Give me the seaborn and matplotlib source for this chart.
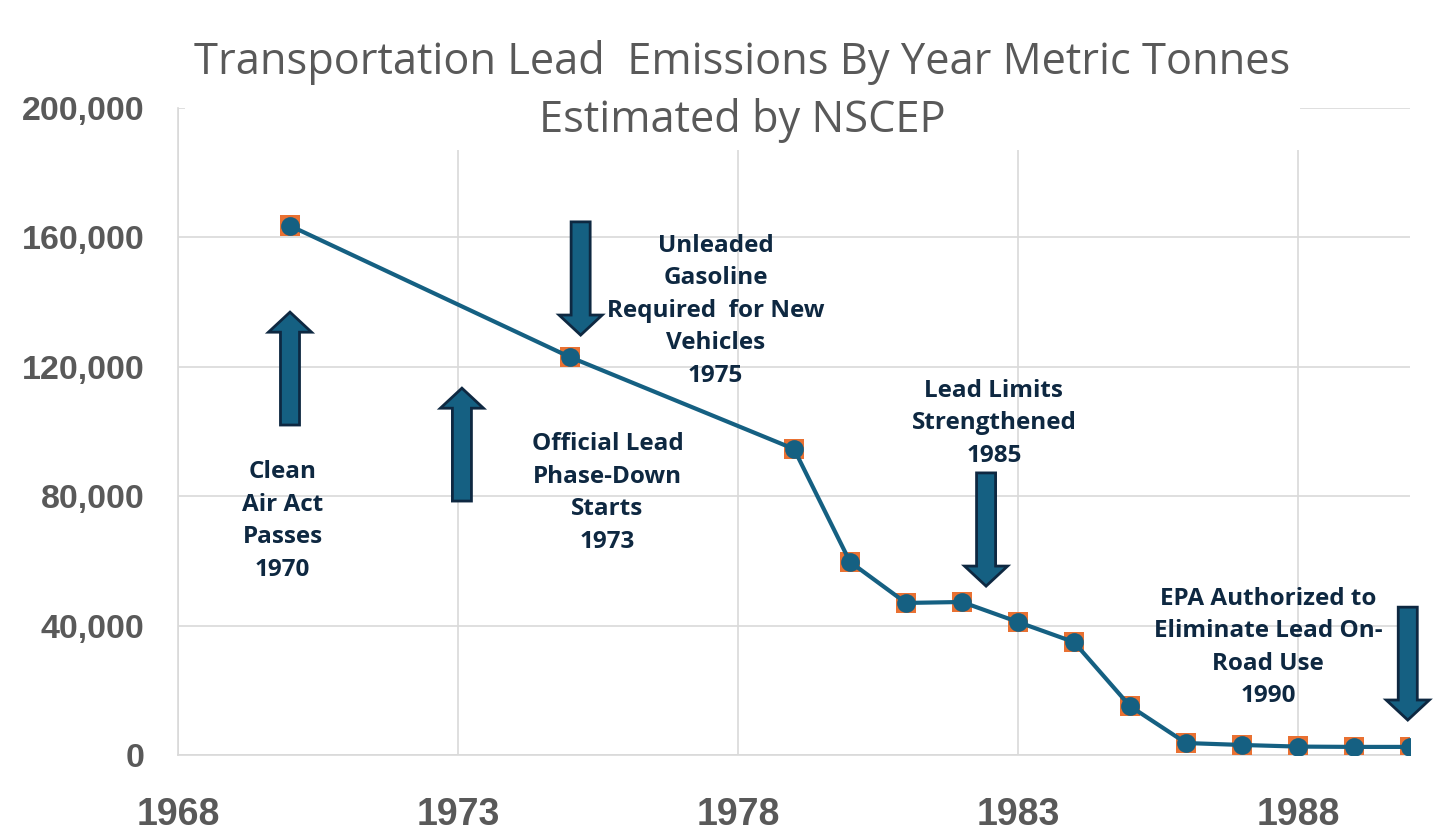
import matplotlib
matplotlib.use('Agg')
import pandas as pd
import seaborn as sns
import matplotlib.pyplot as plt
from matplotlib.patches import FancyArrow, Rectangle

# emissions in metric tonnes
years = [1970, 1975, 1979, 1980, 1981, 1982, 1983, 1984, 1985, 1986, 1987, 1988, 1989, 1990]
emissions = [163600, 123000, 94600, 59700, 47000, 47300, 41100, 34900, 15100, 3700, 3100, 2600, 2500, 2500]

x_ticks = [1968, 1973, 1978, 1983, 1988]
y_ticks = [0, 40000, 80000, 120000, 160000, 200000]

title_1 = 'Transportation Lead  Emissions By Year Metric Tonnes'
title_2 = 'Estimated by NSCEP'

# annotation labels: (text, x, y)
notes = [
    ('Clean\nAir Act\nPasses\n1970', 1969.87, 72300),
    ('Official Lead\nPhase-Down\nStarts\n1973', 1975.67, 81000),
    ('Unleaded\nGasoline\nRequired  for New\nVehicles\n1975', 1977.6, 137300),
    ('Lead Limits\nStrengthened\n1985', 1982.57, 102600),
    ('EPA Authorized to\nEliminate Lead On-\nRoad Use\n1990', 1987.47, 33200),
]
# block arrows: (x, tail y, tip y)
arrows = [
    (1970.0, 102000, 136900),
    (1973.07, 78500, 113400),
    (1975.19, 164800, 129800),
    (1982.43, 87200, 52200),
    (1989.96, 45700, 10800),
]

df = pd.DataFrame({'Year': years, 'Emissions': emissions})

sns.set_style('white')
plt.rcParams['font.family'] = ['Open Sans', 'DejaVu Sans']

fig = plt.figure(figsize=(14.56, 8.38), dpi=100)
ax = fig.add_axes([0.12225, 0.09905, 0.84616, 0.77207])

line_blue = '#156082'
navy = '#0e2841'
grey = '#595959'

sns.scatterplot(data=df, x='Year', y='Emissions', marker='s', s=220, color='#e97132',
                edgecolor='none', ax=ax, zorder=3)
sns.lineplot(data=df, x='Year', y='Emissions', color=line_blue, linewidth=3,
             marker='o', markersize=13.5, markeredgewidth=0, ax=ax, zorder=4)

ax.set_xlim(1968, 1990)
ax.set_ylim(0, 200000)
ax.set_xticks(x_ticks)
ax.set_yticks(y_ticks)
ax.set_yticklabels([f'{v:,}' for v in y_ticks])
ax.set_xlabel('')
ax.set_ylabel('')
ax.grid(True, color='#d9d9d9', linewidth=1.2)
ax.set_axisbelow(True)
for s in ['top', 'right']:
    ax.spines[s].set_visible(False)
for s in ['left', 'bottom']:
    ax.spines[s].set_color('#d9d9d9')
    ax.spines[s].set_linewidth(1.2)
    ax.spines[s].set_zorder(0.6)
ax.tick_params(axis='both', length=0)
ax.tick_params(axis='y', pad=24)
ax.tick_params(axis='x', pad=30)
for lab in ax.get_yticklabels():
    lab.set_fontfamily('Liberation Sans')
    lab.set_fontweight('bold')
    lab.set_fontsize(24.5)
    lab.set_color(grey)
for lab in ax.get_xticklabels():
    lab.set_fontfamily('Liberation Sans')
    lab.set_fontweight('bold')
    lab.set_fontsize(27)
    lab.set_color(grey)

# white box behind the title, hides the top of the grid
ax.add_patch(Rectangle((0.0057, 0.935), 0.905, 0.1, transform=ax.transAxes,
                       facecolor='white', edgecolor='none', zorder=1, clip_on=False))

for x, y0, y1 in arrows:
    ax.add_patch(FancyArrow(x, y0, 0, y1 - y0, width=0.34, head_width=0.77,
                            head_length=6200, length_includes_head=True,
                            facecolor=line_blue, edgecolor=navy, linewidth=2,
                            zorder=5, clip_on=False))

for txt, x, y in notes:
    ax.text(x, y, txt, ha='center', va='center', fontsize=17.5, fontweight='bold',
            color=navy, linespacing=1.47, zorder=6)

fig.text(742 / 1456, 1 - 74 / 838, title_1, ha='center', va='baseline',
         fontsize=31.2, color=grey)
fig.text(742 / 1456, 1 - 132 / 838, title_2, ha='center', va='baseline',
         fontsize=31.2, color=grey)

fig.savefig('out.png', dpi=100, facecolor='white')
